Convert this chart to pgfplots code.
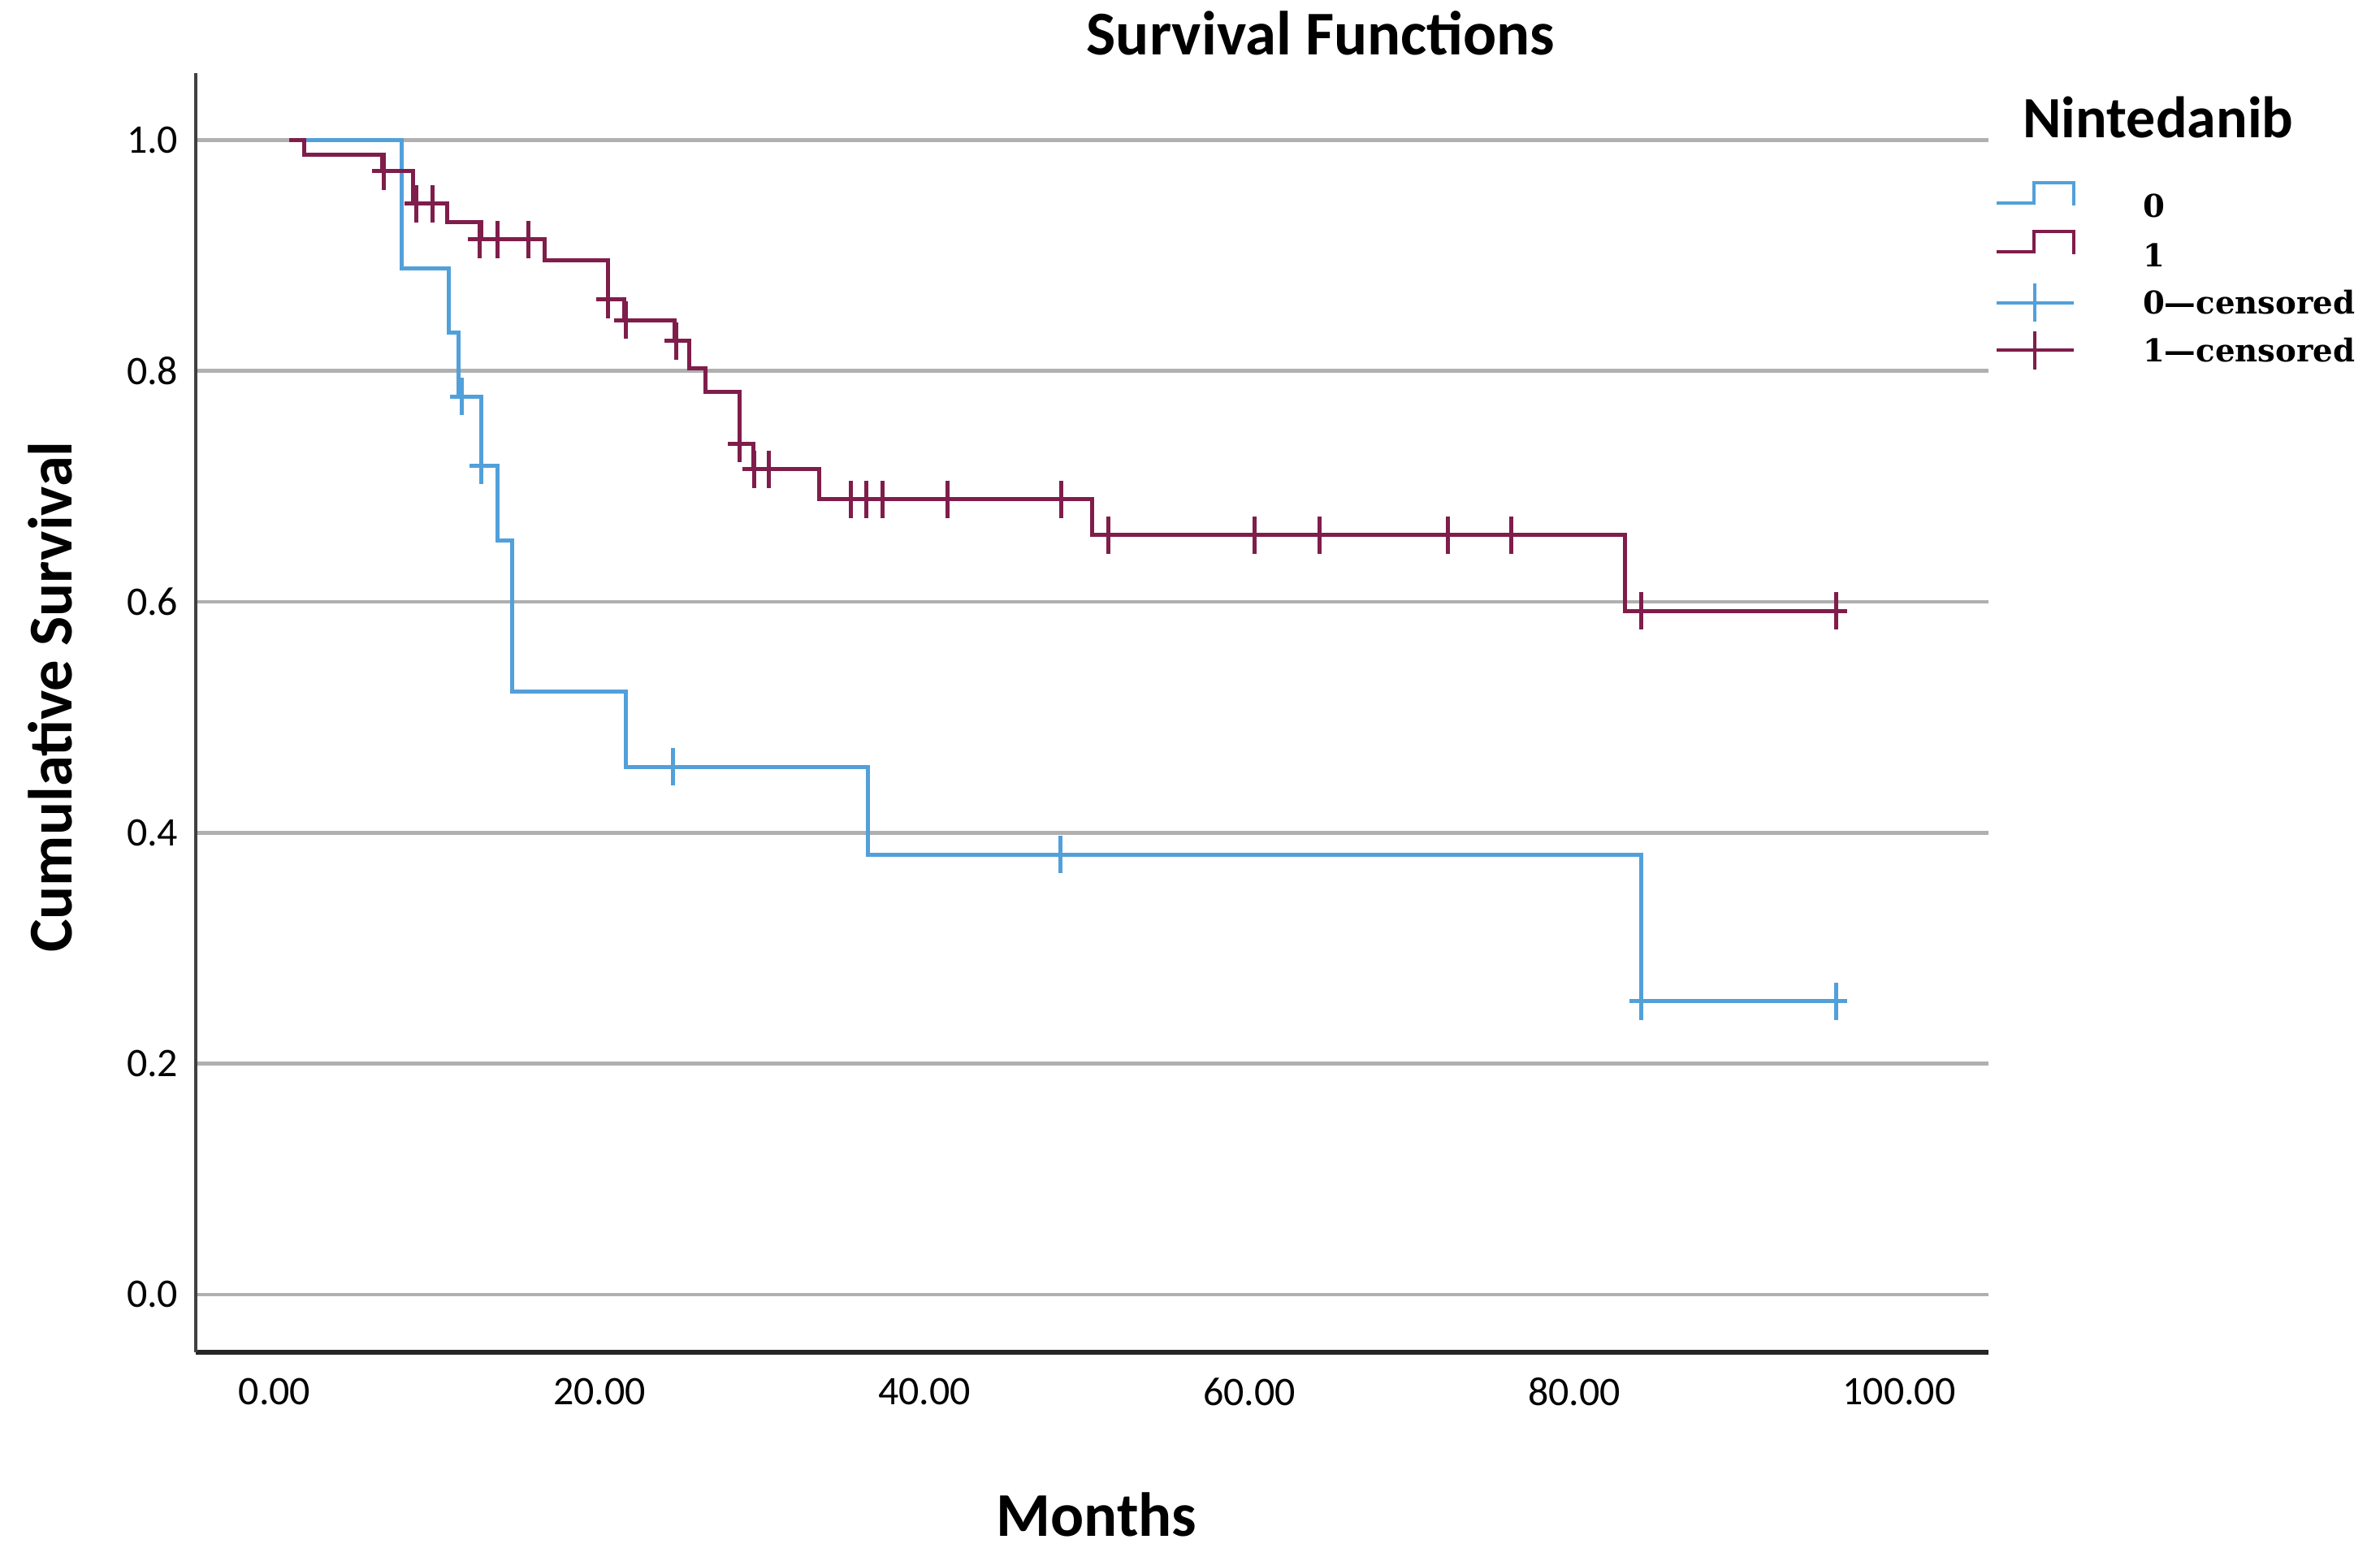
\documentclass[border=0pt]{standalone}
\usepackage{pgfplots}
\pgfplotsset{compat=1.18}
\usepackage{fontspec}
\setmainfont{Carlito}
\newfontfamily\legfont{DejaVu Serif}
\definecolor{kmblue}{HTML}{52A0DA}
\definecolor{kmred}{HTML}{7F1D4B}
\definecolor{gridgray}{HTML}{B0B0B0}

% Kaplan-Meier steps (time in months, survival after the step)
\pgfplotstableread{
t s
0.9 1.000
7.8 0.889
10.7 0.833
11.3 0.778
12.7 0.718
13.7 0.653
14.6 0.522
21.6 0.457
36.5 0.381
84.1 0.254
96.1 0.254
}\grpzero
\pgfplotstableread{
t s
0.9 1.000
1.8 0.987
6.6 0.973
8.5 0.945
10.6 0.929
12.7 0.914
16.6 0.896
20.5 0.862
21.5 0.844
24.6 0.826
25.5 0.802
26.5 0.782
28.6 0.737
29.45 0.715
33.5 0.689
50.3 0.658
83.1 0.592
96.1 0.592
}\grpone
% censored observations
\pgfplotstableread{
t s
11.5 0.778
12.7 0.718
24.5 0.457
48.35 0.381
84.1 0.254
96.1 0.254
}\cenzero
\pgfplotstableread{
t s
6.7 0.973
8.7 0.945
9.7 0.945
12.6 0.914
13.7 0.914
15.6 0.914
20.5 0.862
21.6 0.844
24.7 0.826
28.6 0.737
29.5 0.715
30.4 0.715
35.45 0.689
36.4 0.689
37.4 0.689
41.4 0.689
48.4 0.689
51.3 0.658
60.3 0.658
64.3 0.658
72.2 0.658
76.1 0.658
84.1 0.592
96.1 0.592
}\cenone

\begin{document}
\begin{tikzpicture}
\useasboundingbox (0,0) rectangle (29.30cm,-19.06cm);
\begin{axis}[
  at={(2.41cm,-16.65cm)}, anchor=south west,
  scale only axis, width=22.07cm, height=15.75cm,
  xmin=-4.85, xmax=105.5, ymin=-0.05, ymax=1.058,
  axis lines*=left, separate axis lines,
  x axis line style={line width=0.06cm, draw=black!85},
  y axis line style={line width=0.035cm, draw=black!75},
  major tick length=0pt,
  xtick={0,20,40,60,80,100},
  xticklabels={0.00,20.00,40.00,60.00,80.00,100.00},
  ytick={0,0.2,0.4,0.6,0.8,1},
  yticklabels={0.0,0.2,0.4,0.6,0.8,1.0},
  ticklabel style={font=\fontsize{14.2}{17}\selectfont, inner sep=0pt},
  xticklabel style={anchor=north, yshift=-0.31cm},
  yticklabel style={anchor=east, xshift=-0.21cm},
  ymajorgrids, grid style={line width=0.045cm, draw=gridgray},
  legend cell align=left,
  legend style={at={(1.00363,0.9156)}, anchor=north west, draw=none, fill=none,
    inner sep=0pt, outer sep=0pt, row sep=0.005cm, column sep=0.83cm,
    nodes={inner sep=0pt, anchor=west, text height=0.28cm, text depth=0cm,
      font=\legfont\bfseries\fontsize{11}{13}\selectfont}},
]
\addplot[const plot, kmblue, line width=0.05cm,
  legend image code/.code={
    \path[draw=none, fill=none] (0cm,-0.29cm) rectangle (0.95cm,0.29cm);
    \draw[kmblue, line width=0.04cm] (0cm,0.04cm) -- (0.46cm,0.04cm) -- (0.46cm,0.29cm) -- (0.95cm,0.29cm) -- (0.95cm,0.01cm);
  }] table[x=t, y=s] {\grpzero};
\addlegendentry{0}
\addplot[const plot, kmred, line width=0.05cm,
  legend image code/.code={
    \path[draw=none, fill=none] (0cm,-0.29cm) rectangle (0.95cm,0.29cm);
    \draw[kmred, line width=0.04cm] (0cm,0.04cm) -- (0.46cm,0.04cm) -- (0.46cm,0.29cm) -- (0.95cm,0.29cm) -- (0.95cm,0.01cm);
  }] table[x=t, y=s] {\grpone};
\addlegendentry{1}
\addplot[only marks, mark=+, kmblue, mark size=0.23cm,
  mark options={line width=0.05cm, xscale=0.6},
  legend image code/.code={
    \path[draw=none, fill=none] (0cm,-0.29cm) rectangle (0.95cm,0.29cm);
    \draw[kmblue, line width=0.04cm] (0cm,0cm) -- (0.95cm,0cm);
    \draw[kmblue, line width=0.04cm] (0.47cm,-0.235cm) -- (0.47cm,0.235cm);
  }] table[x=t, y=s] {\cenzero};
\addlegendentry{0—censored}
\addplot[only marks, mark=+, kmred, mark size=0.23cm,
  mark options={line width=0.05cm, xscale=0.6},
  legend image code/.code={
    \path[draw=none, fill=none] (0cm,-0.29cm) rectangle (0.95cm,0.29cm);
    \draw[kmred, line width=0.04cm] (0cm,0cm) -- (0.95cm,0cm);
    \draw[kmred, line width=0.04cm] (0.47cm,-0.235cm) -- (0.47cm,0.235cm);
  }] table[x=t, y=s] {\cenone};
\addlegendentry{1—censored}
\end{axis}
\node[anchor=base, font=\bfseries\fontsize{21.8}{26}\selectfont] at (16.26cm,-0.68cm) {Survival Functions};
\node[anchor=base, rotate=90, font=\bfseries\fontsize{21.8}{26}\selectfont] at (0.88cm,-8.58cm) {Cumulative Survival};
\node[anchor=base, font=\bfseries\fontsize{21.8}{26}\selectfont] at (13.50cm,-18.91cm) {Months};
\node[anchor=base west, font=\bfseries\fontsize{20.5}{24}\selectfont] at (24.78cm,-1.70cm) {Nintedanib};
\end{tikzpicture}
\end{document}
